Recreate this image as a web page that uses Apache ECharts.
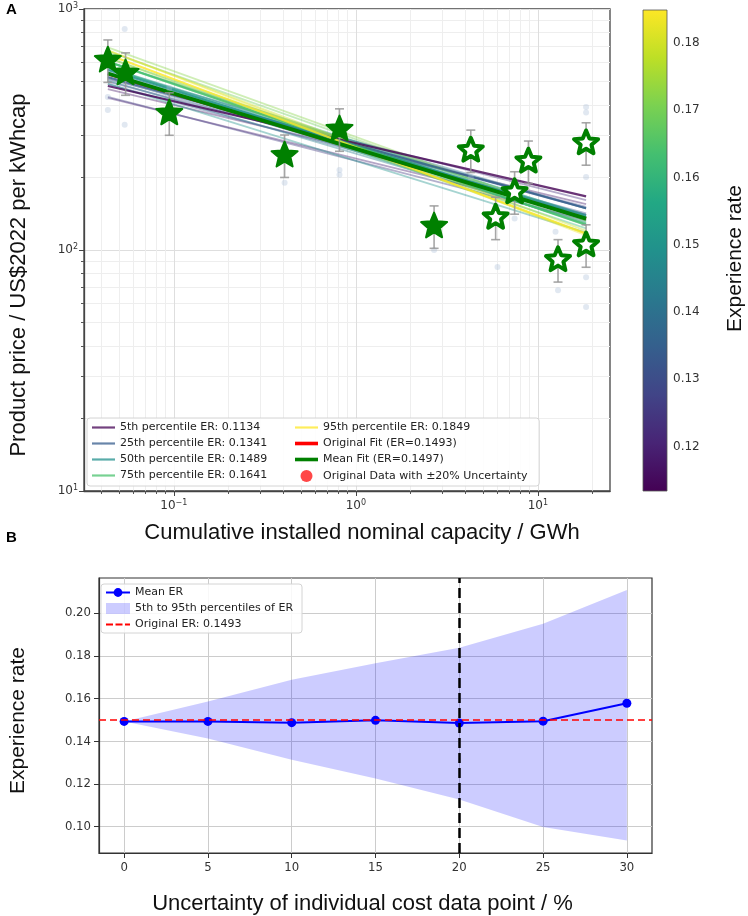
<!DOCTYPE html>
<html>
<head>
<meta charset="utf-8">
<script src="https://cdn.jsdelivr.net/npm/echarts@6/dist/echarts.min.js"></script>
<style>
  html, body { margin: 0; padding: 0; background: #fff; }
  #chart { width: 748px; height: 916px; }
</style>
</head>
<body>
<div id="chart"></div>
<script>
// ---- panel A: learning curve ----
const capacity = [0.0434, 0.0543, 0.0944, 0.406, 0.813, 2.69, 4.28, 5.86, 7.45, 8.87, 12.9, 18.4, 18.4]
const price = [620, 548, 374, 250, 321, 127, 262, 138, 176, 236, 92, 281, 106]
const filled = [1, 1, 1, 1, 1, 1, 0, 0, 0, 0, 0, 0, 0]
const uncertainty = 0.2
// perturbed samples (faint dots)
const sampleDots = [
  [0.0537, 826], [0.0434, 431], [0.0434, 381], [0.0537, 331], [0.0944, 470],
  [0.406, 190], [0.813, 205], [0.813, 215], [2.69, 100], [4.28, 200],
  [6.0, 85], [7.45, 135], [12.5, 119], [12.9, 68], [18.4, 392],
  [18.4, 372], [18.4, 201], [18.4, 77], [18.4, 58]
]
// fitted lines: capacity range and [ER, price at start, price at end]
const fitRange = [0.0434, 18.4]
const bootstrapFits = [
  [0.118, 465, 155], [0.120, 428, 140], [0.124, 513, 161], [0.126, 432, 133],
  [0.128, 500, 151], [0.132, 488, 142], [0.136, 535, 149], [0.139, 518, 140],
  [0.141, 561, 149], [0.143, 506, 131], [0.145, 547, 139], [0.147, 541, 135],
  [0.149, 571, 140], [0.150, 490, 118], [0.151, 540, 129], [0.153, 571, 134],
  [0.155, 604, 139], [0.157, 570, 128], [0.159, 604, 133], [0.161, 569, 123],
  [0.163, 603, 127], [0.166, 627, 129], [0.169, 667, 132], [0.172, 693, 133],
  [0.175, 628, 117], [0.179, 673, 120], [0.183, 673, 115]
]
const percentileNames = ['5th percentile ER: 0.1134', '25th percentile ER: 0.1341', '50th percentile ER: 0.1489', '75th percentile ER: 0.1641', '95th percentile ER: 0.1849']
const percentileER = [0.1134, 0.1341, 0.1489, 0.1641, 0.1849]
const percentileEnds = [[479, 167], [522, 149], [558, 137], [606, 127], [648, 117]]
const originalFit = [538, 135]
const meanFit = [540, 135]
const erRange = [0.1134, 0.1849]
const colorbarTicks = [0.12, 0.13, 0.14, 0.15, 0.16, 0.17, 0.18]
const xMajor = [0.1, 1, 10]
const xMinor = [0.04, 0.05, 0.06, 0.07, 0.08, 0.09, 0.2, 0.3, 0.4, 0.5, 0.6, 0.7, 0.8, 0.9, 2, 3, 4, 5, 6, 7, 8, 9, 20]
const yMajor = [10, 100, 1000]
const yMinor = [20, 30, 40, 50, 60, 70, 80, 90, 200, 300, 400, 500, 600, 700, 800, 900]

// ---- panel B: sensitivity to uncertainty ----
const uncertaintyPct = [0, 5, 10, 15, 20, 25, 30]
const meanER = [0.1493, 0.1493, 0.1487, 0.1498, 0.1485, 0.1494, 0.1578]
const p5ER = [0.1493, 0.1413, 0.1313, 0.1226, 0.1127, 0.0999, 0.0936]
const p95ER = [0.1493, 0.1586, 0.1688, 0.1765, 0.1837, 0.1950, 0.2108]
const originalER = 0.1493
const chosenUncertainty = 20
const bYTicks = [0.10, 0.12, 0.14, 0.16, 0.18, 0.20]

const viridis = ['#440154', '#482475', '#414487', '#355f8d', '#2a788e', '#21918c', '#22a884', '#44bf70', '#7ad151', '#bddf26', '#fde725']
function erColor(er, alpha) {
  const t = (er - erRange[0]) / (erRange[1] - erRange[0])
  const c = echarts.color.lerp(Math.min(1, Math.max(0, t)), viridis)
  return alpha == null ? c : echarts.color.modifyAlpha(c, alpha)
}

const starPath = 'path://M50,0L63.2,31.8L97.6,34.5L71.4,57L79.4,90.5L50,72.5L20.6,90.5L28.6,57L2.4,34.5L36.8,31.8Z'
// legend icons: thin / thick line, dashed line
const lineIcon = 'path://M0,0H23V2.2H0Z'
const thickIcon = 'path://M0,0H23V3.6H0Z'
const dashIcon = 'path://M0,0H7V2H0ZM9.5,0H16.5V2H9.5ZM19,0H24V2H19Z'
const tickFont = 'DejaVu Sans'
const titleFont = 'Liberation Sans'

function sup(v) {
  const e = Math.round(Math.log10(v))
  return '10{s|' + String(e).replace('-', '\u2212') + '}'
}

const chart = echarts.init(document.getElementById('chart'))

const logX = { type: 'log', logBase: 10, min: 0.0321, max: 24.9, gridIndex: 0 }
const logY = { type: 'log', logBase: 10, min: 10, max: 1000, gridIndex: 0 }

const percentileSeries = percentileNames.map((name, i) => ({
  name: name,
  type: 'line',
  xAxisIndex: 0,
  yAxisIndex: 0,
  symbol: 'none',
  silent: true,
  z: 3,
  itemStyle: { color: erColor(percentileER[i]) },
  lineStyle: { color: erColor(percentileER[i]), width: 2.2, opacity: 0.8 },
  data: [[fitRange[0], percentileEnds[i][0]], [fitRange[1], percentileEnds[i][1]]]
}))

const legendText = { fontSize: 11, fontFamily: tickFont, color: '#222' }

chart.setOption({
  animation: false,
  title: [
    { text: 'A', left: 6, top: 2, padding: 0, textStyle: { fontSize: 15, fontWeight: 'bold', fontFamily: titleFont, color: '#000' } },
    { text: 'B', left: 6, top: 530, padding: 0, textStyle: { fontSize: 15, fontWeight: 'bold', fontFamily: titleFont, color: '#000' } }
  ],
  legend: [
    {
      data: percentileNames.slice(0, 4).map((name, i) => ({ name, icon: lineIcon, itemStyle: { color: erColor(percentileER[i], 0.75) } })),
      orient: 'vertical',
      left: 87,
      top: 418,
      itemWidth: 23,
      itemHeight: 12,
      itemGap: 5,
      symbolKeepAspect: true,
      padding: [4, 272, 5, 5],
      backgroundColor: 'rgba(255,255,255,0.85)',
      borderColor: '#d4d4d4',
      borderWidth: 1,
      borderRadius: 3,
      selectedMode: false,
      textStyle: legendText
    },
    {
      data: [
        { name: percentileNames[4], icon: lineIcon, itemStyle: { color: erColor(percentileER[4], 0.75) } },
        { name: 'Original Fit (ER=0.1493)', icon: thickIcon, itemStyle: { color: '#ff0000' } },
        { name: 'Mean Fit (ER=0.1497)', icon: thickIcon, itemStyle: { color: '#008000' } },
        { name: 'Original Data with \u00b120% Uncertainty', icon: 'circle', itemStyle: { color: 'rgba(255,0,0,0.72)' } }
      ],
      orient: 'vertical',
      left: 290,
      top: 418,
      z: 5,
      itemWidth: 23,
      itemHeight: 12,
      itemGap: 5,
      symbolKeepAspect: true,
      padding: [4, 5, 5, 5],
      selectedMode: false,
      textStyle: legendText
    },
    {
      data: [
        'Mean ER',
        { name: '5th to 95th percentiles of ER', icon: 'rect', itemStyle: { color: 'rgba(0,0,255,0.2)' } },
        { name: 'Original ER: 0.1493', icon: dashIcon, itemStyle: { color: '#ff0000' } }
      ],
      orient: 'vertical',
      left: 101,
      top: 584,
      itemWidth: 24,
      itemHeight: 11,
      itemGap: 5,
      symbolKeepAspect: true,
      padding: [3, 9, 3, 4],
      backgroundColor: 'rgba(255,255,255,0.85)',
      borderColor: '#d4d4d4',
      borderWidth: 1,
      borderRadius: 3,
      selectedMode: false,
      textStyle: legendText
    }
  ],
  grid: [
    { left: 80, top: 9, width: 530, height: 482, show: true, borderColor: '#444', borderWidth: 1.3, backgroundColor: '#fff' },
    { left: 643, top: 10, width: 24, height: 481 },
    { left: 95, top: 578, width: 557, height: 276, show: true, borderColor: '#333', borderWidth: 1.2, backgroundColor: '#fff' }
  ],
  xAxis: [
    Object.assign({}, logX, {
      position: 'bottom',
      name: 'Cumulative installed nominal capacity / GWh',
      nameLocation: 'middle',
      nameGap: 31,
      nameTextStyle: { fontSize: 22, fontFamily: titleFont, color: '#111', padding: [0, 0, 0, 30] },
      axisLine: { show: true, lineStyle: { color: '#444', width: 1.3 } },
      axisTick: { show: true, length: 5, customValues: xMajor, lineStyle: { color: '#444' } },
      axisLabel: {
        customValues: xMajor, margin: 8, formatter: sup,
        fontSize: 12, fontFamily: tickFont, color: '#333',
        rich: { s: { fontSize: 8, fontFamily: tickFont, color: '#333', verticalAlign: 'top', padding: [0, 0, 6, 0] } }
      },
      splitLine: { show: true, lineStyle: { color: '#dedede', width: 1 } }
    }),
    Object.assign({}, logX, {
      position: 'bottom',
      axisLine: { show: false },
      axisTick: { show: true, length: 3, customValues: xMinor, lineStyle: { color: '#555' } },
      axisLabel: { show: false },
      splitLine: { show: true, lineStyle: { color: '#eeeeee', width: 1 } }
    }),
    { type: 'value', gridIndex: 1, min: 0, max: 1, show: false },
    {
      type: 'value', gridIndex: 2, min: -1.5, max: 31.5,
      name: 'Uncertainty of individual cost data point / %',
      nameLocation: 'middle',
      nameGap: 40,
      nameTextStyle: { fontSize: 22, fontFamily: titleFont, color: '#111', padding: [0, 26, 0, 0] },
      axisLine: { show: true, onZero: false, lineStyle: { color: '#333', width: 1.2 } },
      axisTick: { show: true, length: 5, customValues: uncertaintyPct, lineStyle: { color: '#333' } },
      axisLabel: { customValues: uncertaintyPct, margin: 8, fontSize: 13, fontFamily: 'DejaVu Sans Condensed', color: '#333' },
      splitLine: { show: true, lineStyle: { color: '#cccccc', width: 1 } }
    }
  ],
  yAxis: [
    Object.assign({}, logY, {
      position: 'left',
      name: 'Product price / US$2022 per kWhcap',
      nameLocation: 'middle',
      nameGap: 54,
      nameTextStyle: { fontSize: 22, fontFamily: titleFont, color: '#111', padding: [0, 50, 0, 0] },
      axisLine: { show: true, lineStyle: { color: '#444', width: 1.3 } },
      axisTick: { show: true, length: 5, customValues: yMajor, lineStyle: { color: '#444' } },
      axisLabel: {
        customValues: yMajor, margin: 6, formatter: sup,
        fontSize: 12, fontFamily: tickFont, color: '#333',
        rich: { s: { fontSize: 8, fontFamily: tickFont, color: '#333', verticalAlign: 'top', padding: [0, 0, 6, 0] } }
      },
      splitLine: { show: true, lineStyle: { color: '#dedede', width: 1 } }
    }),
    Object.assign({}, logY, {
      position: 'left',
      axisLine: { show: false },
      axisTick: { show: true, length: 3, customValues: yMinor, lineStyle: { color: '#555' } },
      axisLabel: { show: false },
      splitLine: { show: true, lineStyle: { color: '#eeeeee', width: 1 } }
    }),
    {
      type: 'value', gridIndex: 1, min: erRange[0], max: erRange[1], position: 'right',
      name: 'Experience rate',
      nameLocation: 'middle',
      nameGap: 58,
      nameRotate: 90,
      nameTextStyle: { fontSize: 21, fontFamily: titleFont, color: '#111', padding: [0, 16, 0, 0] },
      axisLine: { show: false },
      axisTick: { show: true, length: 4, customValues: colorbarTicks, lineStyle: { color: '#333' } },
      axisLabel: { customValues: colorbarTicks, margin: 6, formatter: v => v.toFixed(2), fontSize: 12, fontFamily: tickFont, color: '#333' },
      splitLine: { show: false }
    },
    {
      type: 'value', gridIndex: 2, min: 0.0877, max: 0.2164,
      name: 'Experience rate',
      nameLocation: 'middle',
      nameGap: 70,
      nameTextStyle: { fontSize: 21, fontFamily: titleFont, color: '#111', padding: [0, 10, 0, 0] },
      axisLine: { show: true, onZero: false, lineStyle: { color: '#333', width: 1.2 } },
      axisTick: { show: true, length: 5, customValues: bYTicks, lineStyle: { color: '#333' } },
      axisLabel: { customValues: bYTicks, margin: 8, formatter: v => v.toFixed(2), fontSize: 13, fontFamily: 'DejaVu Sans Condensed', color: '#333' },
      splitLine: { show: true, lineStyle: { color: '#cccccc', width: 1 } }
    }
  ],
  series: [
    {
      type: 'custom',
      name: 'bootstrap fits',
      xAxisIndex: 0,
      yAxisIndex: 0,
      silent: true,
      z: 2,
      data: bootstrapFits,
      renderItem: (params, api) => {
        const p0 = api.coord([fitRange[0], api.value(1)])
        const p1 = api.coord([fitRange[1], api.value(2)])
        return {
          type: 'line',
          shape: { x1: p0[0], y1: p0[1], x2: p1[0], y2: p1[1] },
          style: { stroke: erColor(api.value(0)), lineWidth: 1.8, opacity: 0.4 }
        }
      }
    },
    ...percentileSeries,
    {
      name: 'Original Fit (ER=0.1493)',
      type: 'line',
      xAxisIndex: 0,
      yAxisIndex: 0,
      symbol: 'none',
      silent: true,
      z: 4,
      itemStyle: { color: '#ff0000' },
      lineStyle: { color: '#ff0000', width: 3 },
      data: [[fitRange[0], originalFit[0]], [fitRange[1], originalFit[1]]]
    },
    {
      name: 'Mean Fit (ER=0.1497)',
      type: 'line',
      xAxisIndex: 0,
      yAxisIndex: 0,
      symbol: 'none',
      silent: true,
      z: 5,
      itemStyle: { color: '#008000' },
      lineStyle: { color: '#008000', width: 3.8 },
      data: [[fitRange[0], meanFit[0]], [fitRange[1], meanFit[1]]]
    },
    {
      type: 'scatter',
      name: 'samples',
      xAxisIndex: 0,
      yAxisIndex: 0,
      silent: true,
      z: 6,
      symbolSize: 6,
      itemStyle: { color: 'rgba(170,190,215,0.35)', opacity: 1 },
      data: sampleDots
    },
    {
      type: 'custom',
      name: 'Original Data with \u00b120% Uncertainty',
      xAxisIndex: 0,
      yAxisIndex: 0,
      silent: true,
      z: 7,
      itemStyle: { color: 'rgba(255,0,0,0.72)' },
      data: capacity.map((x, i) => [x, price[i]]),
      renderItem: (params, api) => {
        const x = api.value(0)
        const y = api.value(1)
        const lo = api.coord([x, y * (1 - uncertainty)])
        const hi = api.coord([x, y * (1 + uncertainty)])
        const style = { stroke: 'rgba(150,150,150,0.85)', lineWidth: 1.6 }
        return {
          type: 'group',
          children: [
            { type: 'line', shape: { x1: lo[0], y1: lo[1], x2: hi[0], y2: hi[1] }, style },
            { type: 'line', shape: { x1: lo[0] - 4.5, y1: lo[1], x2: lo[0] + 4.5, y2: lo[1] }, style },
            { type: 'line', shape: { x1: hi[0] - 4.5, y1: hi[1], x2: hi[0] + 4.5, y2: hi[1] }, style }
          ]
        }
      }
    },
    {
      type: 'scatter',
      name: 'stars filled',
      xAxisIndex: 0,
      yAxisIndex: 0,
      silent: true,
      z: 8,
      symbol: starPath,
      symbolKeepAspect: true,
      symbolSize: 26,
      itemStyle: { color: '#008000', borderColor: '#008000', borderWidth: 2, borderJoin: 'round', opacity: 1 },
      data: capacity.map((x, i) => [x, price[i]]).filter((d, i) => filled[i])
    },
    {
      type: 'scatter',
      name: 'stars hollow',
      xAxisIndex: 0,
      yAxisIndex: 0,
      silent: true,
      z: 8,
      symbol: starPath,
      symbolKeepAspect: true,
      symbolSize: 24,
      itemStyle: { color: '#ffffff', borderColor: '#008000', borderWidth: 4, borderJoin: 'round', opacity: 1 },
      data: capacity.map((x, i) => [x, price[i]]).filter((d, i) => !filled[i])
    },
    {
      type: 'custom',
      name: 'colorbar',
      xAxisIndex: 2,
      yAxisIndex: 2,
      silent: true,
      data: [[0, erRange[0], erRange[1]]],
      renderItem: (params, api) => {
        const p0 = api.coord([0, api.value(1)])
        const p1 = api.coord([1, api.value(2)])
        return {
          type: 'rect',
          shape: { x: p0[0], y: p1[1], width: p1[0] - p0[0], height: p0[1] - p1[1] },
          style: {
            fill: new echarts.graphic.LinearGradient(0, 1, 0, 0, viridis.map((c, i) => ({ offset: i / (viridis.length - 1), color: c }))),
            stroke: '#555',
            lineWidth: 0.8
          }
        }
      }
    },
    {
      type: 'custom',
      name: '5th to 95th percentiles of ER',
      xAxisIndex: 3,
      yAxisIndex: 3,
      silent: true,
      z: 2,
      itemStyle: { color: 'rgba(0,0,255,0.2)' },
      data: uncertaintyPct.map((x, i) => [x, p5ER[i], p95ER[i]]),
      encode: { x: 0, y: [1, 2] },
      renderItem: (params, api) => {
        if (params.dataIndex !== 0) return
        const top = uncertaintyPct.map((x, i) => api.coord([x, p95ER[i]]))
        const bottom = uncertaintyPct.map((x, i) => api.coord([x, p5ER[i]])).reverse()
        return { type: 'polygon', shape: { points: top.concat(bottom) }, style: { fill: 'rgba(0,0,255,0.2)' } }
      }
    },
    {
      name: 'Original ER: 0.1493',
      type: 'line',
      xAxisIndex: 3,
      yAxisIndex: 3,
      symbol: 'none',
      silent: true,
      z: 3,
      itemStyle: { color: '#ff0000' },
      lineStyle: { color: '#ff0000', width: 1.6, type: [7, 4] },
      data: [],
      markLine: {
        silent: true,
        symbol: 'none',
        label: { show: false },
        animation: false,
        data: [
          { yAxis: originalER, lineStyle: { color: '#ff0000', width: 1.6, type: [7, 4] } },
          { xAxis: chosenUncertainty, lineStyle: { color: '#000000', width: 2.5, type: [10, 5] } }
        ]
      }
    },
    {
      name: 'Mean ER',
      type: 'line',
      xAxisIndex: 3,
      yAxisIndex: 3,
      silent: true,
      z: 4,
      symbol: 'circle',
      symbolSize: 9,
      itemStyle: { color: '#0000ff', opacity: 1 },
      lineStyle: { color: '#0000ff', width: 2 },
      data: uncertaintyPct.map((x, i) => [x, meanER[i]])
    }
  ]
})
</script>
</body>
</html>
